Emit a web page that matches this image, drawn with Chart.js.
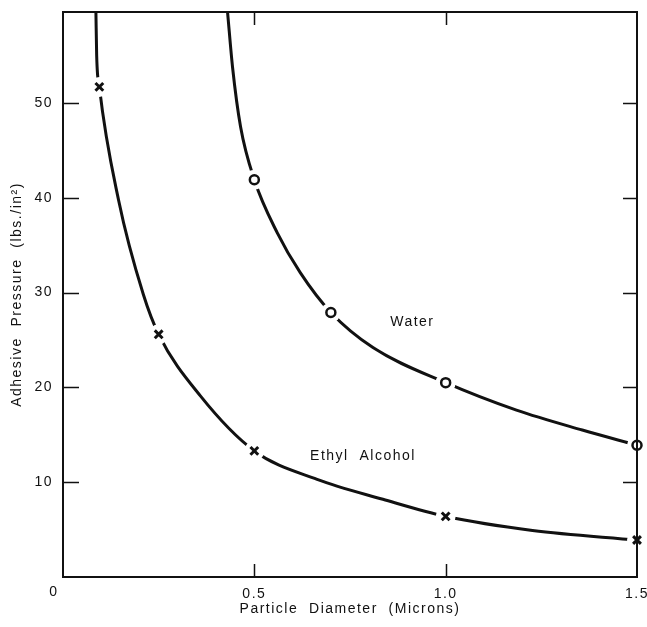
<!DOCTYPE html>
<html lang="en">
<head>
    <meta charset="UTF-8">
    <title>Adhesive Pressure vs Particle Diameter</title>
    <style>
        body { margin: 0; background: #fff; }
        canvas { display: block; }
    </style>
    <script src="https://cdn.jsdelivr.net/npm/chart.js"></script>
</head>
<body>
    <canvas id="chart" width="647" height="627"></canvas>

    <script>
        // measured points (the o / x marks)
        const waterX = [0.5, 0.7, 1.0, 1.5];
        const waterY = [41.9, 27.9, 20.5, 13.9];
        const ethylX = [0.095, 0.25, 0.5, 1.0, 1.5];
        const ethylY = [51.7, 25.6, 13.3, 6.4, 3.9];

        // faired curves
        const waterCurveX = [0.43, 0.443, 0.464, 0.5, 0.56, 0.62, 0.7, 0.81, 1.0, 1.185, 1.357, 1.5];
        const waterCurveY = [59.6, 53.8, 47.5, 41.9, 36.3, 32.1, 27.9, 24.2, 20.5, 17.6, 15.5, 13.9];
        const ethylCurveX = [0.086, 0.088, 0.095, 0.145, 0.21, 0.25, 0.359, 0.5, 0.664, 0.836, 1.0, 1.227, 1.5];
        const ethylCurveY = [59.6, 55.0, 51.7, 39.8, 29.8, 25.6, 19.1, 13.3, 10.3, 8.2, 6.4, 4.9, 3.9];

        const xTicks = [0.5, 1.0, 1.5];
        const xTickLabels = ['0.5', '1.0', '1.5'];
        const yTicks = [10, 20, 30, 40, 50];

        const curveLabels = [
            { text: 'Water', x: 0.913, y: 26.9 },
            { text: 'Ethyl  Alcohol', x: 0.784, y: 12.8 }
        ];

        const FONT = "'Liberation Sans', Arial, sans-serif";
        Chart.defaults.font.family = FONT;
        Chart.defaults.color = '#111';

        function pts(xs, ys) {
            return xs.map((x, i) => ({ x: x, y: ys[i] }));
        }

        // the scanned lettering is widely spaced
        const spacingPlugin = {
            id: 'spacing',
            beforeDraw(chart) { chart.ctx.letterSpacing = '1.5px'; },
            afterDraw(chart) { chart.ctx.letterSpacing = '0px'; }
        };

        // box, inward ticks, origin label and curve names
        const framePlugin = {
            id: 'frame',
            afterDatasetsDraw(chart) {
                const ctx = chart.ctx;
                const a = chart.chartArea;
                const xs = chart.scales.x;
                const ys = chart.scales.y;
                ctx.save();
                ctx.strokeStyle = '#111';
                ctx.lineWidth = 2;
                ctx.strokeRect(a.left, a.top, a.right - a.left, a.bottom - a.top);

                ctx.lineWidth = 1.5;
                ctx.beginPath();
                yTicks.forEach(v => {
                    const py = Math.round(ys.getPixelForValue(v)) + 0.5;
                    ctx.moveTo(a.left, py); ctx.lineTo(a.left + 16, py);
                    ctx.moveTo(a.right, py); ctx.lineTo(a.right - 14, py);
                });
                xTicks.slice(0, 2).forEach(v => {
                    const px = Math.round(xs.getPixelForValue(v)) + 0.5;
                    ctx.moveTo(px, a.bottom); ctx.lineTo(px, a.bottom - 13);
                    ctx.moveTo(px, a.top); ctx.lineTo(px, a.top + 13);
                });
                ctx.stroke();

                ctx.fillStyle = '#111';
                ctx.font = '14px ' + FONT;
                ctx.textAlign = 'center';
                ctx.textBaseline = 'middle';
                ctx.fillText('0', xs.getPixelForValue(0) - 9, a.bottom + 15);

                curveLabels.forEach(l => {
                    ctx.fillText(l.text, xs.getPixelForValue(l.x), ys.getPixelForValue(l.y));
                });
                ctx.restore();
            }
        };

        new Chart(document.getElementById('chart'), {
            type: 'scatter',
            data: {
                datasets: [
                    {
                        label: 'Water points',
                        data: pts(waterX, waterY),
                        pointStyle: 'circle',
                        pointRadius: 4.5,
                        pointBorderWidth: 2.5,
                        pointBorderColor: '#111',
                        pointBackgroundColor: '#fff',
                        clip: false,
                        order: 0
                    },
                    {
                        label: 'Ethyl points',
                        data: pts(ethylX, ethylY),
                        pointStyle: 'crossRot',
                        pointRadius: 5.5,
                        pointBorderWidth: 3,
                        pointBorderColor: '#111',
                        clip: false,
                        order: 0
                    },
                    {
                        label: 'gaps',
                        data: pts(waterX, waterY).concat(pts(ethylX, ethylY)),
                        pointStyle: 'circle',
                        pointRadius: 10,
                        pointBorderWidth: 0,
                        pointBackgroundColor: '#fff',
                        pointBorderColor: '#fff',
                        clip: false,
                        order: 1
                    },
                    {
                        label: 'Water',
                        data: pts(waterCurveX, waterCurveY),
                        showLine: true,
                        cubicInterpolationMode: 'monotone',
                        borderColor: '#111',
                        borderWidth: 3,
                        pointRadius: 0,
                        order: 2
                    },
                    {
                        label: 'Ethyl Alcohol',
                        data: pts(ethylCurveX, ethylCurveY),
                        showLine: true,
                        cubicInterpolationMode: 'monotone',
                        borderColor: '#111',
                        borderWidth: 3,
                        pointRadius: 0,
                        order: 2
                    }
                ]
            },
            options: {
                responsive: false,
                animation: false,
                layout: { padding: { top: 12, right: 9, left: 0, bottom: 0 } },
                plugins: {
                    legend: { display: false },
                    tooltip: { enabled: false }
                },
                scales: {
                    x: {
                        type: 'linear',
                        min: 0,
                        max: 1.5,
                        afterBuildTicks: s => { s.ticks = xTicks.map(v => ({ value: v })); },
                        afterFit: s => {
                            s.height = 50;
                            s.paddingLeft = 0;
                            s.paddingRight = 0;
                        },
                        grid: { display: false, drawTicks: false },
                        border: { display: false },
                        ticks: {
                            padding: 9,
                            maxRotation: 0,
                            font: { size: 14 },
                            callback: (v, i) => xTickLabels[i]
                        },
                        title: {
                            display: true,
                            text: 'Particle  Diameter  (Microns)',
                            font: { size: 14 },
                            padding: { top: 0, bottom: 9 }
                        }
                    },
                    y: {
                        type: 'linear',
                        min: 0,
                        max: 59.6,
                        afterBuildTicks: s => { s.ticks = yTicks.map(v => ({ value: v })); },
                        afterFit: s => {
                            s.width = 63;
                            s.paddingTop = 0;
                            s.paddingBottom = 0;
                        },
                        grid: { display: false, drawTicks: false },
                        border: { display: false },
                        ticks: {
                            padding: 10,
                            font: { size: 14 }
                        },
                        title: {
                            display: true,
                            text: 'Adhesive  Pressure  (lbs./in²)',
                            font: { size: 14 },
                            padding: { top: 9, bottom: 0 }
                        }
                    }
                }
            },
            plugins: [spacingPlugin, framePlugin]
        });
    </script>
</body>
</html>
